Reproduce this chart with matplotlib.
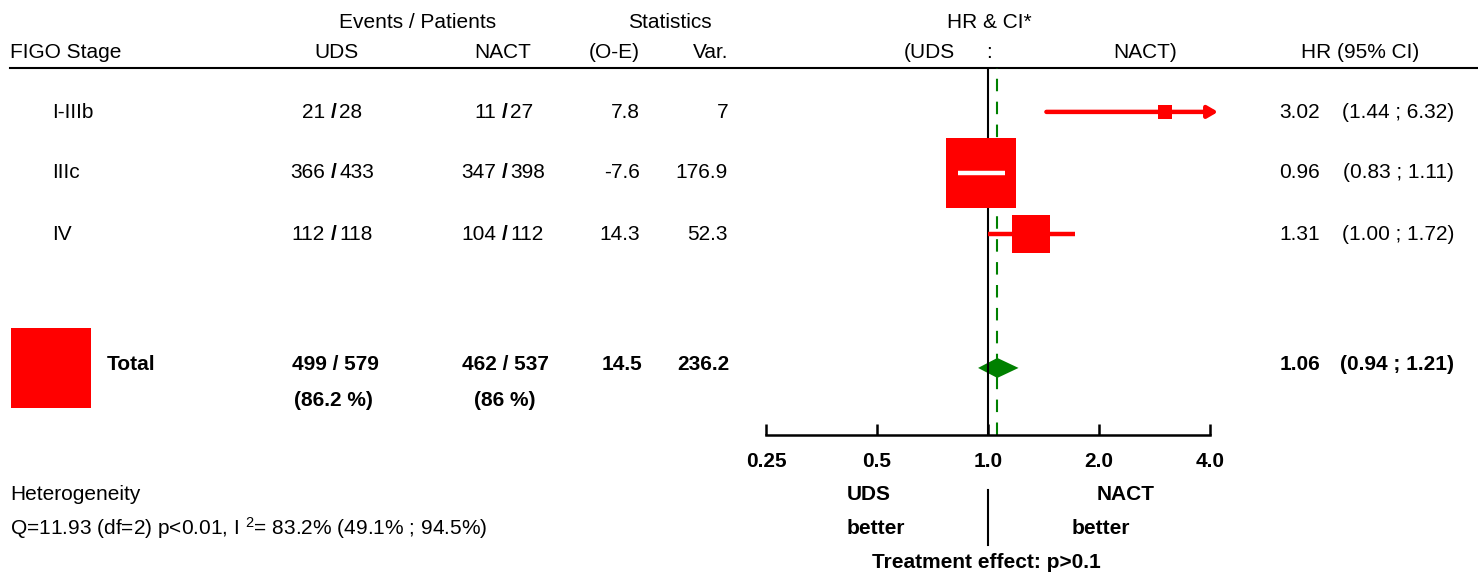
import numpy as np
import matplotlib
matplotlib.use("Agg")
import matplotlib.pyplot as plt
from matplotlib.patches import Polygon

plt.rcParams["font.family"] = ["Liberation Sans", "DejaVu Sans"]
plt.rcParams["mathtext.fontset"] = "custom"
plt.rcParams["mathtext.rm"] = "Liberation Sans"
plt.rcParams["mathtext.default"] = "regular"

# subgroup results
stages = ["I-IIIb", "IIIc", "IV"]
uds_events = [21, 366, 112]
uds_patients = [28, 433, 118]
nact_events = [11, 347, 104]
nact_patients = [27, 398, 112]
o_minus_e = ["7.8", "-7.6", "14.3"]
variance = [7, 176.9, 52.3]
hr = [3.02, 0.96, 1.31]
ci_low = [1.44, 0.83, 1.00]
ci_high = [6.32, 1.11, 1.72]

# pooled result
total_uds = (499, 579, "86.2")
total_nact = (462, 537, "86")
total_oe = "14.5"
total_var = 236.2
total_hr = 1.06
total_ci = (0.94, 1.21)

tick_values = [0.25, 0.5, 1.0, 2.0, 4.0]
tick_labels = ["0.25", "0.5", "1.0", "2.0", "4.0"]

RED = "#ff0000"
GREEN = "#008000"
FS = 15
W, H = 1478, 578

fig = plt.figure(figsize=(W / 100, H / 100), dpi=100)

# text layer in pixel units
tx = fig.add_axes([0, 0, 1, 1])
tx.set_xlim(0, W)
tx.set_ylim(H, 0)
tx.axis("off")

# forest panel on a log2 axis
fx = fig.add_axes([766 / W, (H - 435) / H, 444 / W, (435 - 68) / H])
fx.set_xscale("log", base=2)
fx.set_xlim(0.25, 4.0)
fx.set_ylim(5.3, -0.72)
fx.patch.set_alpha(0)
for s in ["top", "left", "right"]:
    fx.spines[s].set_visible(False)
fx.spines["bottom"].set_linewidth(1.8)
fx.set_yticks([])
fx.set_xticks(tick_values)
fx.set_xticklabels(tick_labels, fontsize=FS, fontweight="bold")
fx.minorticks_off()
fx.tick_params(axis="x", direction="in", length=8, width=1.8, pad=12)

px_per_unit = 444 / np.log2(4.0 / 0.25)
side_scale = 5.27  # box side in px per sqrt(variance)


def t(x, y, s, ha="left", bold=False, size=FS):
    tx.text(x, y, s, ha=ha, va="center", fontsize=size,
            fontweight="bold" if bold else "normal")


# headers
t(418, 22, "Events / Patients", ha="center")
t(670, 22, "Statistics", ha="center")
t(989, 22, "HR & CI*", ha="center")
t(10, 52, "FIGO Stage")
t(336, 52, "UDS", ha="center")
t(503, 52, "NACT", ha="center")
t(640, 52, "(O-E)", ha="right")
t(728, 52, "Var.", ha="right")
t(904, 52, "(UDS")
t(989, 52, ":", ha="center")
t(1177, 52, "NACT)", ha="right")
t(1360, 52, "HR (95% CI)", ha="center")
tx.plot([10, W], [68, 68], color="black", lw=1.5)

fx.axvline(1.0, color="black", lw=1.5)
fx.axvline(total_hr, color=GREEN, lw=1.5, dashes=(6, 5))


def counts(xs, y, ev, pt, bold=False):
    t(xs - 9, y, str(ev), ha="right", bold=bold)
    t(xs, y, "/", ha="center", bold=True)
    t(xs + 5, y, str(pt), bold=bold)


row_px = [112, 172, 234]
for i, st in enumerate(stages):
    y = row_px[i]
    t(52, y, st)
    counts(334, y, uds_events[i], uds_patients[i])
    counts(505, y, nact_events[i], nact_patients[i])
    t(640, y, o_minus_e[i], ha="right")
    t(728, y, f"{variance[i]:g}", ha="right")
    t(1320, y, f"{hr[i]:.2f}", ha="right")
    t(1454, y, f"({ci_low[i]:.2f} ; {ci_high[i]:.2f})", ha="right")

    side = side_scale * np.sqrt(variance[i])
    if ci_high[i] > 4.0:
        # interval runs past the axis: finish with an arrow just beyond 4.0
        tip = 4.0 * 2 ** (8 / px_per_unit)
        fx.annotate("", xy=(tip, i), xytext=(ci_low[i], i),
                    arrowprops=dict(arrowstyle="-|>,head_length=0.6,head_width=0.35",
                                    color=RED, lw=3.2, shrinkA=0, shrinkB=0),
                    annotation_clip=False)
    else:
        fx.plot([ci_low[i], ci_high[i]], [i, i], color=RED, lw=3.2,
                solid_capstyle="butt")
    fx.plot(hr[i], i, marker="s", ms=side * 0.72, color=RED, mew=0)
    half = side / 2 / px_per_unit
    if (np.log2(hr[i]) - half < np.log2(ci_low[i])
            and np.log2(ci_high[i]) < np.log2(hr[i]) + half):
        fx.plot([ci_low[i], ci_high[i]], [i, i], color="white", lw=3.2,
                solid_capstyle="butt")

# pooled row
ty = 364
tx.plot(50.5, 368, marker="s", ms=side_scale * np.sqrt(total_var) * 0.72,
        color=RED, mew=0)
t(107, ty, "Total", bold=True)
t(335, ty, f"{total_uds[0]} / {total_uds[1]}", ha="center", bold=True)
t(505, ty, f"{total_nact[0]} / {total_nact[1]}", ha="center", bold=True)
t(333, 400, f"({total_uds[2]} %)", ha="center", bold=True)
t(505, 400, f"({total_nact[2]} %)", ha="center", bold=True)
t(642, ty, total_oe, ha="right", bold=True)
t(729, ty, f"{total_var:g}", ha="right", bold=True)
t(1320, ty, f"{total_hr:.2f}", ha="right", bold=True)
t(1454, ty, f"({total_ci[0]:.2f} ; {total_ci[1]:.2f})", ha="right", bold=True)

yd = 4.2
dh = 10 / 61
fx.add_patch(Polygon([(total_ci[0], yd), (total_hr, yd - dh),
                      (total_ci[1], yd), (total_hr, yd + dh)],
                     closed=True, color=GREEN, lw=0))

# heterogeneity and treatment effect
t(10, 494, "Heterogeneity")
t(10, 528, "Q=11.93 (df=2) p<0.01, I $^{2}$= 83.2% (49.1% ; 94.5%)")
t(869, 494, "UDS", ha="center", bold=True)
t(876, 528, "better", ha="center", bold=True)
t(1126, 494, "NACT", ha="center", bold=True)
t(1101, 528, "better", ha="center", bold=True)
t(986, 563, "Treatment effect: p>0.1", ha="center", bold=True)
fx.plot([1.0, 1.0], [(490 - 112) / 61, (545 - 112) / 61], color="black",
        lw=1.5, clip_on=False)

fig.savefig("out.png", dpi=100)
